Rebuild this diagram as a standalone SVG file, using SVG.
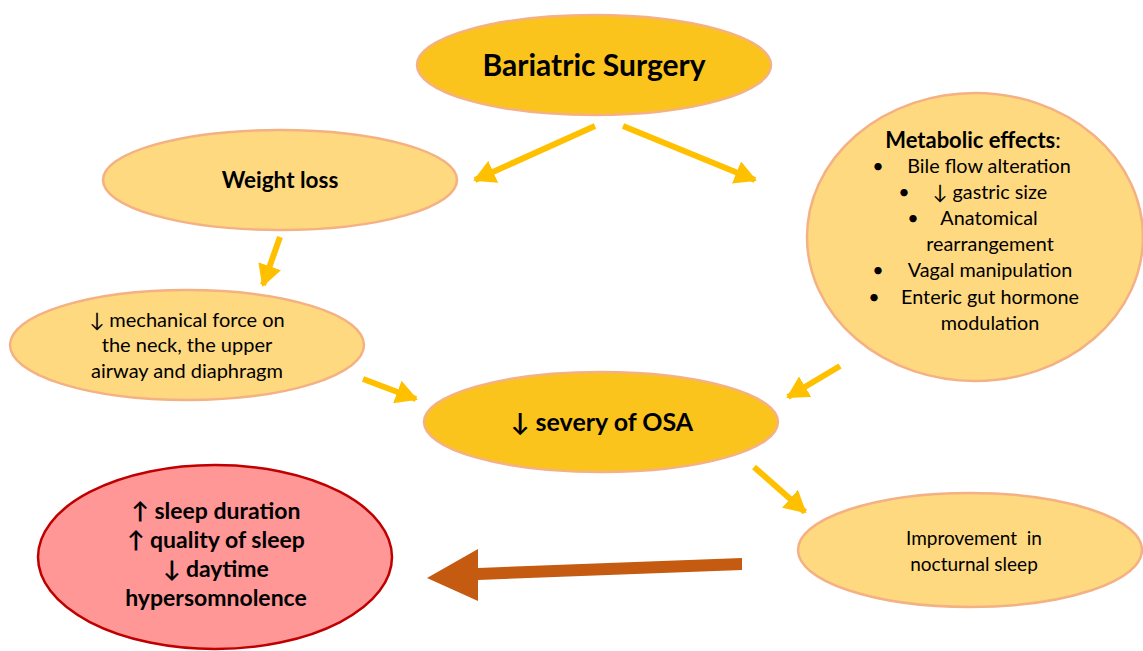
<svg xmlns="http://www.w3.org/2000/svg" width="1143" height="651" viewBox="0 0 1143 651">
<defs>
<style>
.gold{fill:#FBC41C;stroke:#F4B183;stroke-width:2.5}
.light{fill:#FFD97F;stroke:#F4B183;stroke-width:2.5}
.red{fill:#FF9797;stroke:#C00000;stroke-width:2.5}
text{font-family:Lato,"Open Sans","DejaVu Sans",sans-serif;fill:#000;text-anchor:middle}
.b{font-weight:bold}
.conn{stroke:#FFC000;stroke-width:6;fill:none;marker-end:url(#ah)}
</style>
<marker id="ah" markerUnits="userSpaceOnUse" markerWidth="22" markerHeight="24" viewBox="0 0 22 24" refX="20" refY="12" orient="auto">
<path d="M0,0 L22,12 L0,24 z" fill="#FFC000"/>
</marker>
</defs>
<rect width="1143" height="651" fill="#fff"/>
<g id="connectors">
<line class="conn" x1="595" y1="126" x2="475" y2="180"/>
<line class="conn" x1="623" y1="126" x2="755" y2="180"/>
<line class="conn" x1="280" y1="237" x2="263" y2="285"/>
<line class="conn" x1="363" y1="379" x2="416" y2="399"/>
<line class="conn" x1="840" y1="366" x2="788" y2="397"/>
<line class="conn" x1="754" y1="467" x2="805" y2="512"/>
<path d="M742,558 L478,568 L478,549 L427,578 L478,601 L478,580 L742,570 z" fill="#C55A11"/>
</g>
<g id="bariatric">
<ellipse class="gold" cx="594" cy="65" rx="177" ry="50"/>
<text class="b" x="594" y="76" font-size="30">Bariatric Surgery</text>
</g>
<g id="weightloss">
<ellipse class="light" cx="280" cy="180" rx="177" ry="50"/>
<text class="b" x="280" y="188" font-size="22.5">Weight loss</text>
</g>
<g id="mechanical">
<ellipse class="light" cx="187" cy="345" rx="177" ry="55"/>
<g font-size="20">
<text x="187" y="327">↓ mechanical force on</text>
<text x="187" y="352">the neck, the upper</text>
<text x="187" y="378">airway and diaphragm</text>
</g>
</g>
<g id="metabolic">
<ellipse class="light" cx="975" cy="237" rx="168" ry="144"/>
<text x="973" y="148" font-size="22"><tspan class="b">Metabolic effects</tspan>:</text>
<g font-size="19.8">
<text x="878" y="173">•</text><text x="989" y="173">Bile flow alteration</text>
<text x="904" y="199">•</text><text x="990" y="199">↓ gastric size</text>
<text x="913" y="225">•</text><text x="989" y="225">Anatomical</text>
<text x="990" y="251">rearrangement</text>
<text x="878" y="277">•</text><text x="990" y="277">Vagal manipulation</text>
<text x="874" y="304">•</text><text x="990" y="304">Enteric gut hormone</text>
<text x="990" y="330">modulation</text>
</g>
</g>
<g id="osa">
<ellipse class="gold" cx="601" cy="422" rx="177" ry="50"/>
<text class="b" x="602" y="431" font-size="25">↓ severy of OSA</text>
</g>
<g id="improvement">
<ellipse class="light" cx="970" cy="550" rx="172" ry="57"/>
<text x="974" y="545" font-size="19" xml:space="preserve">Improvement  in</text>
<text x="974" y="571" font-size="19">nocturnal sleep</text>
</g>
<g id="outcome">
<ellipse class="red" cx="215" cy="557" rx="177" ry="92"/>
<g class="b" font-size="23">
<text x="216" y="519">↑ sleep duration</text>
<text x="216" y="548">↑ quality of sleep</text>
<text x="216" y="577">↓ daytime</text>
<text x="216" y="606">hypersomnolence</text>
</g>
</g>
</svg>
